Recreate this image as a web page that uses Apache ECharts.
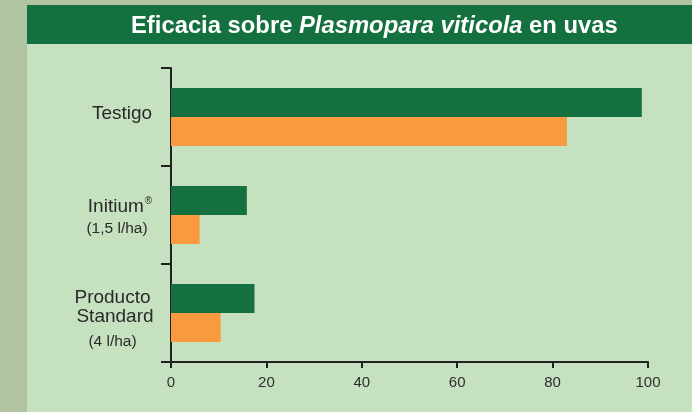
<!DOCTYPE html>
<html>
<head>
<meta charset="utf-8">
<script src="https://cdn.jsdelivr.net/npm/echarts@6/dist/echarts.min.js"></script>
<style>
html,body{margin:0;padding:0;background:#b1c4a1;}
#c{width:692px;height:412px;}
</style>
</head>
<body>
<div id="c"></div>
<script>
var categories = ['Testigo', 'Initium', 'Producto'];
var seriesA = [98.7, 15.9, 17.5];
var seriesB = [83.0, 6.0, 10.4];
var xTicks = [0, 20, 40, 60, 80, 100];

var labelMap = {
  'Testigo': '{t|Testigo}\n{sp6| }',
  'Initium': '{sp6| }\n{a|Initium}{sup|®}\n{b|(1,5 l/ha)}',
  'Producto': '{sp20| }\n{a2|Producto}\n{a3|Standard}\n{b2|(4 l/ha)}'
};

var chart = echarts.init(document.getElementById('c'), null, {renderer: 'canvas'});
var FONT = '"Liberation Sans", Arial, Helvetica, sans-serif';
chart.setOption({
  backgroundColor: '#b1c4a1',
  animation: false,
  graphic: [
    {type: 'rect', shape: {x: 27, y: 5, width: 665, height: 407}, style: {fill: '#c6e1bf'}, z: -10},
    {type: 'rect', shape: {x: 27, y: 5, width: 665, height: 39}, style: {fill: '#14703f'}, z: -9},
    {type: 'text', left: 131, top: 14, z: 10, style: {
      text: '{n|Eficacia sobre }{i|Plasmopara viticola}{n| en uvas}',
      rich: {
        n: {fontFamily: FONT, fontSize: 23.8, fontWeight: 'bold', fill: '#ffffff'},
        i: {fontFamily: FONT, fontSize: 23.8, fontWeight: 'bold', fontStyle: 'italic', fill: '#ffffff'}
      }
    }}
  ],
  grid: {left: 171, right: 44, top: 68, bottom: 50, containLabel: false},
  xAxis: {
    type: 'value', min: 0, max: 100, interval: 20,
    axisLine: {show: true, lineStyle: {color: '#222', width: 2}},
    axisTick: {show: true, length: 6, lineStyle: {color: '#222', width: 2}},
    splitLine: {show: false},
    axisLabel: {color: '#2e2e2e', fontFamily: FONT, fontSize: 15, margin: 13,
      formatter: function (v) { return xTicks.indexOf(v) >= 0 ? String(v) : ''; }}
  },
  yAxis: {
    type: 'category', data: categories, inverse: true,
    axisLine: {show: true, lineStyle: {color: '#222', width: 2}},
    axisTick: {show: true, length: 10, lineStyle: {color: '#222', width: 2}},
    axisLabel: {
      align: 'center', margin: 54, color: '#2a2a2a',
      formatter: function (v) { return labelMap[v]; },
      rich: {
        t: {fontFamily: FONT, fontSize: 19, color: '#2a2a2a', lineHeight: 22, padding: [0, 0, 0, 10]},
        a: {fontFamily: FONT, fontSize: 19, color: '#2a2a2a', lineHeight: 22, padding: [0, 0, 0, 6]},
        a2: {fontFamily: FONT, fontSize: 19, color: '#2a2a2a', lineHeight: 19, padding: [0, 9, 0, 0]},
        a3: {fontFamily: FONT, fontSize: 19, color: '#2a2a2a', lineHeight: 19, padding: [0, 4, 0, 0]},
        sup: {fontFamily: FONT, fontSize: 10, color: '#2a2a2a', verticalAlign: 'top', lineHeight: 22, padding: [0, 0, 0, 1]},
        b: {fontFamily: FONT, fontSize: 15.5, color: '#2a2a2a', lineHeight: 22},
        b2: {fontFamily: FONT, fontSize: 15.5, color: '#2a2a2a', lineHeight: 31, padding: [0, 9, 0, 0]},
        sp6: {fontSize: 1, lineHeight: 6},
        sp20: {fontSize: 1, lineHeight: 20}
      }
    }
  },
  series: [
    {type: 'bar', data: seriesA, barWidth: 29, barGap: '0%', itemStyle: {color: '#14703f'}},
    {type: 'bar', data: seriesB, barWidth: 29, barGap: '0%', itemStyle: {color: '#f89a3d'}}
  ]
});
</script>
</body>
</html>
